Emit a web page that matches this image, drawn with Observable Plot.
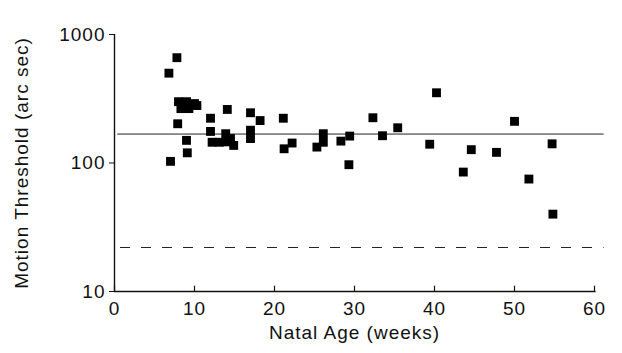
<!DOCTYPE html>
<html>
<head>
<meta charset="utf-8">
<script src="https://cdn.jsdelivr.net/npm/d3@7"></script>
<script src="https://cdn.jsdelivr.net/npm/@observablehq/plot@0.6"></script>
<style>
  html, body { margin: 0; padding: 0; background: #fff; }
  svg text { letter-spacing: 1px; }
</style>
</head>
<body>
<div id="chart"></div>
<script>
// Natal age (weeks) of each infant tested
const ages = [
  6.8, 7.8, 7.0, 7.9, 8.0, 9.0, 10.0, 8.3, 9.3, 10.3, 9.0, 9.1,
  12.0, 12.0, 12.2, 13.1, 13.9, 14.0, 14.5, 14.9, 14.1,
  17.0, 17.0, 17.0, 18.2, 21.1, 21.2, 22.2, 25.3, 26.1, 26.1,
  28.3, 29.4, 29.3, 32.3, 33.5, 35.4, 39.4, 40.25,
  43.6, 44.6, 47.75, 50.0, 51.8, 54.7, 54.8
];
// Motion threshold (arc sec)
const thresholds = [
  500, 660, 103, 202, 300, 300, 290, 265, 265, 280, 150, 120,
  223, 176, 145, 145, 169, 146, 155, 137, 261,
  246, 180, 155, 214, 223, 129, 143, 133, 169, 145,
  148, 162, 97, 225, 163, 188, 140, 352,
  85, 127, 121, 211, 75, 141, 40
];
const xTicks = [0, 10, 20, 30, 40, 50, 60];
const yTicks = [10, 100, 1000];
const meanThreshold = [168];   // solid reference line
const adultThreshold = [22];   // dashed reference line

const data = ages.map((a, i) => ({age: a, threshold: thresholds[i]}));

const chart = Plot.plot({
  width: 622,
  height: 353,
  marginLeft: 114,
  marginRight: 28,
  marginTop: 34,
  marginBottom: 62,
  style: {
    fontFamily: "Liberation Sans, Arial, sans-serif",
    fontSize: "19px",
    color: "#111",
    background: "#fff"
  },
  x: {
    domain: [0, 60],
    ticks: xTicks,
    tickSize: 0,
    tickPadding: 10,
    label: "Natal Age (weeks)",
    labelArrow: "none",
    labelAnchor: "center",
    labelOffset: 47
  },
  y: {
    type: "log",
    domain: [10, 1000],
    ticks: yTicks,
    tickFormat: d => String(d),
    tickSize: 5,
    tickPadding: 4,
    label: "Motion Threshold (arc sec)",
    labelArrow: "none",
    labelAnchor: "center",
    labelOffset: 100
  },
  marks: [
    Plot.ruleY(meanThreshold, {x1: 0.4, x2: 61.2, stroke: "#222", strokeWidth: 1}),
    Plot.ruleY(adultThreshold, {x1: 0.75, x2: 61.2, stroke: "#222", strokeWidth: 1, strokeDasharray: "10,11"}),
    Plot.ruleX([0], {y1: 10, y2: 1000, stroke: "#111", strokeWidth: 1.4}),
    Plot.ruleY([10], {x1: 0, x2: 60.2, stroke: "#111", strokeWidth: 1.4}),
    Plot.ruleX(xTicks, {y1: 10, y2: 11, stroke: "#111", strokeWidth: 1.2}),
    Plot.dot(data, {x: "age", y: "threshold", symbol: "square", r: 5, fill: "#000", stroke: "none"})
  ]
});
document.getElementById("chart").appendChild(chart);
</script>
</body>
</html>
